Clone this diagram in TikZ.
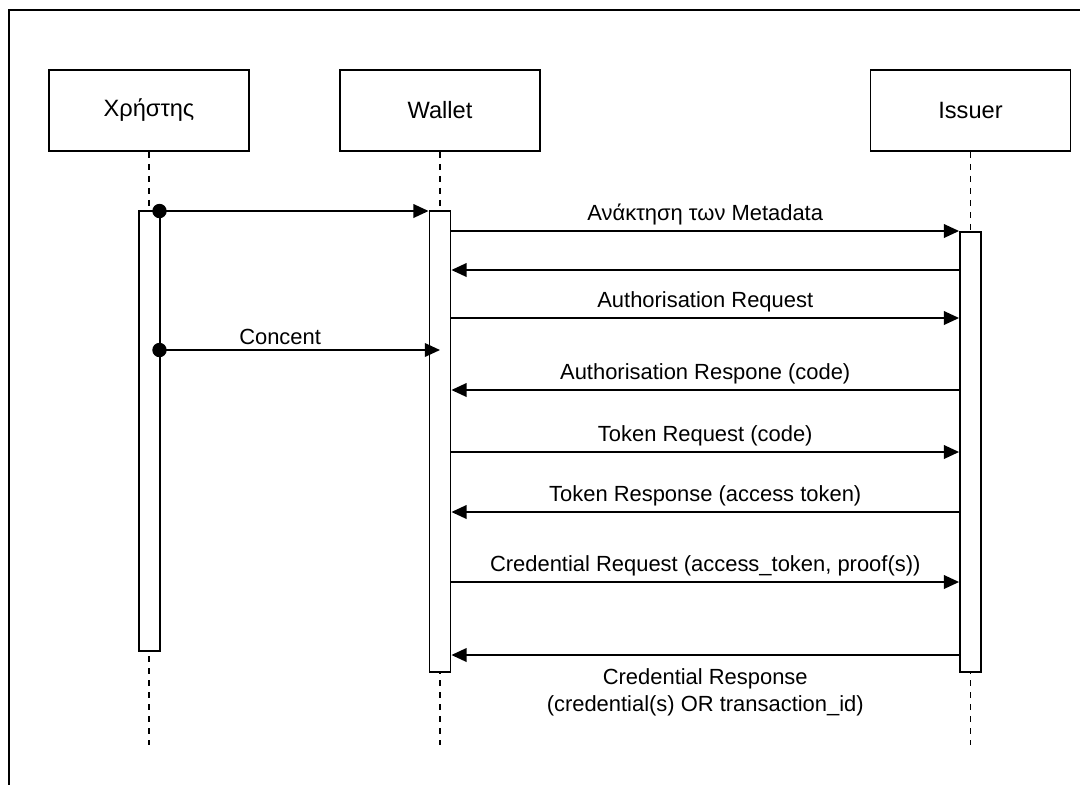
\documentclass[tikz,border=0pt]{standalone}
\usepackage{fontspec}
\setmainfont{Liberation Sans}
\usetikzlibrary{arrows.meta, positioning}
\tikzset{
  actor/.style={draw, line width=1.3pt, minimum width=5cm, minimum height=2.025cm,
                font=\fontsize{16.8}{19}\selectfont},
  actbar/.style={draw, fill=white, line width=1.3pt, minimum width=0.525cm, anchor=north},
  life/.style={line width=1.4pt, dash pattern=on 0.15cm off 0.15cm},
  msg/.style={-{Triangle[length=0.38cm,width=0.34cm]}, line width=1.3pt},
  lbl/.style={font=\fontsize{15.6}{19.2}\selectfont, align=center},
  startdot/.style={circle, fill=black, inner sep=0pt, minimum size=0.36cm}
}

\begin{document}
\begin{tikzpicture}[x=0.025cm, y=-0.025cm]
  \useasboundingbox (0,0) rectangle (1080,785);
  \draw[line width=1pt] (1080,10) -- (9,10) -- (9,785);

  % participants
  \node[actor] (user)   at (149,110.5)   {Χρήστης};
  \node[actor] (wallet) at (440,110.5)   {Wallet};
  \node[actor] (issuer) at (970.5,110.5) {Issuer};

  % lifelines
  \coordinate (userend)   at (149,745);
  \coordinate (walletend) at (440,745);
  \coordinate (issuerend) at (970.5,745);
  \draw[life] (user) -- (userend);
  \draw[life] (wallet) -- (walletend);
  \draw[life] (issuer) -- (issuerend);

  % activations
  \node[actbar, minimum height=11cm]    (ubar) at (149.5,210) {};
  \node[actbar, minimum height=11.525cm] (wbar) at (440,210)   {};
  \node[actbar, minimum height=11cm]    (ibar) at (970.5,231) {};

  % messages
  \coordinate (d1) at (159.5,211);
  \draw[msg] (d1) -- (wbar.west |- d1);
  \node[startdot] at (d1) {};

  \draw[msg] (wbar.east |- 0,231) -- node[lbl, above] {Ανάκτηση των Metadata} (ibar.west |- 0,231);
  \draw[msg] (ibar.west |- 0,270) -- (wbar.east |- 0,270);
  \draw[msg] (wbar.east |- 0,318) -- node[lbl, above] {Authorisation Request} (ibar.west |- 0,318);

  \coordinate (d2) at (159.5,350);
  \draw[msg] (d2) -- node[lbl, above, pos=0.43] {Concent} (wbar.center |- d2);
  \node[startdot] at (d2) {};

  \draw[msg] (ibar.west |- 0,390) -- node[lbl, above] {Authorisation Respone (code)} (wbar.east |- 0,390);
  \draw[msg] (wbar.east |- 0,452) -- node[lbl, above] {Token Request (code)} (ibar.west |- 0,452);
  \draw[msg] (ibar.west |- 0,512) -- node[lbl, above] {Token Response (access token)} (wbar.east |- 0,512);
  \draw[msg] (wbar.east |- 0,582) -- node[lbl, above] {Credential Request (access\_token, proof(s))} (ibar.west |- 0,582);
  \draw[msg] (ibar.west |- 0,655) -- node[lbl, below=6pt] {Credential Response\\(credential(s) OR transaction\_id)} (wbar.east |- 0,655);
\end{tikzpicture}
\end{document}
